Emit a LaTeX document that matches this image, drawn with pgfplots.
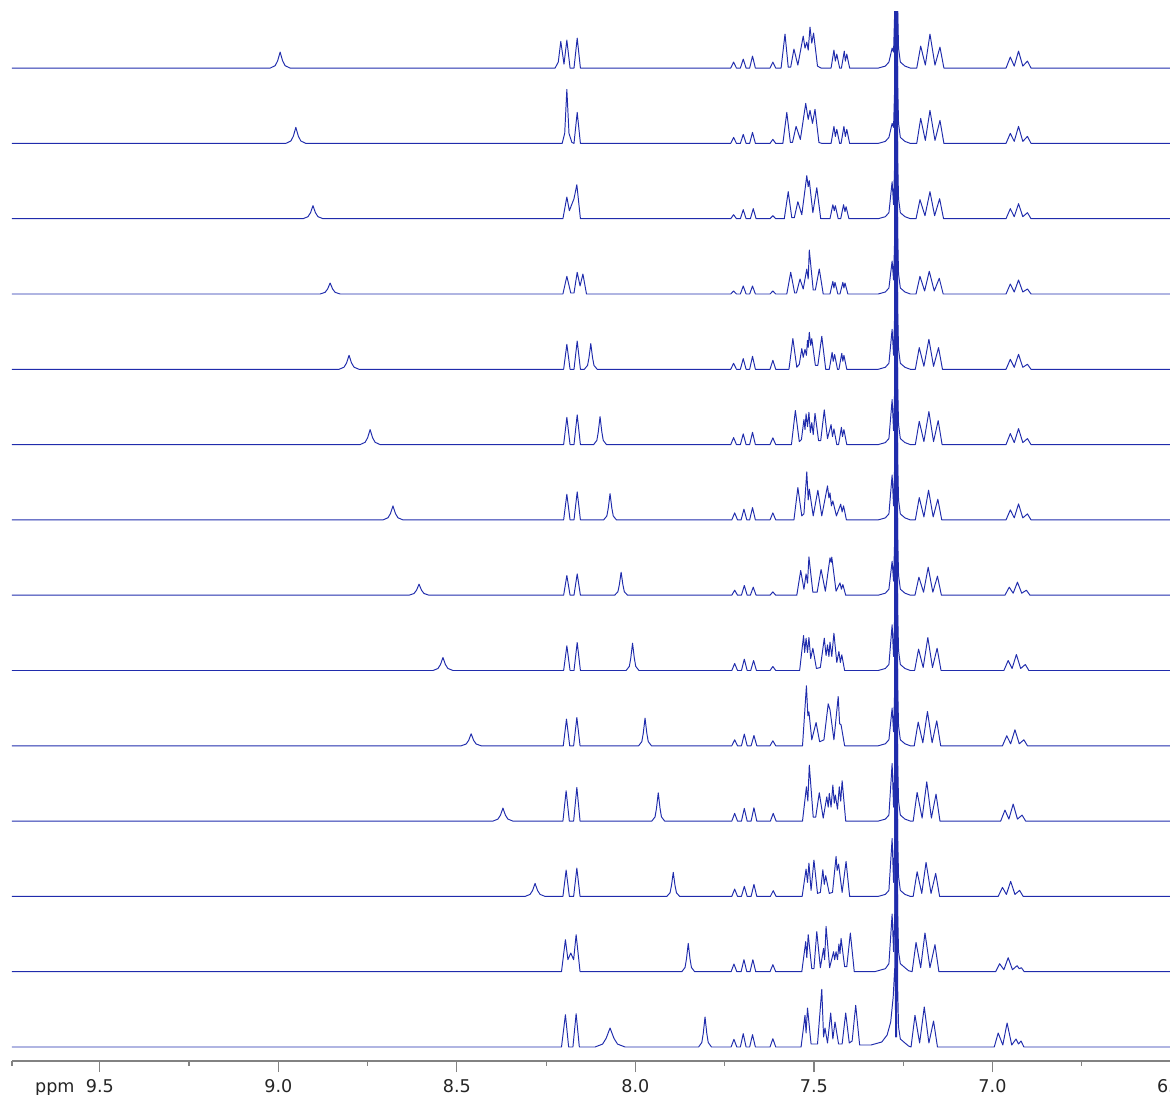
\documentclass[border=0pt]{standalone}
\usepackage{fontspec}
\setmainfont{DejaVu Sans}
\usepackage{pgfplots}
\pgfplotsset{compat=1.18}
\definecolor{spec}{RGB}{32,44,172}
\definecolor{axgray}{RGB}{130,130,130}
\begin{document}
\begin{tikzpicture}
\begin{axis}[
  at={(0,0)}, anchor=south west,
  scale only axis, width=23.18cm, height=20.98cm,
  x dir=reverse, xmin=6.5, xmax=9.746,
  ymin=-14, ymax=1035,
  axis x line*=bottom, axis y line=none,
  x axis line style={axgray, line width=0.7pt},
  xtick={9.5,9.0,8.5,8.0,7.5,7.0,6.5},
  xticklabels={\strut 9.5,\strut 9.0,\strut 8.5,\strut 8.0,\strut 7.5,\strut 7.0,\strut 6.5},
  minor xtick={9.746,9.25,8.75,8.25,7.75,7.25,6.75},
  extra x ticks={9.626}, extra x tick labels={\strut ppm},
  extra x tick style={major tick length=0pt, xticklabel style={yshift=-0.22cm}},
  xtick pos=lower, ytick=\empty,
  tick align=outside, major tick length=0.22cm, minor tick length=0.09cm,
  every tick/.style={axgray, line width=0.7pt},
  xticklabel style={font=\fontsize{10}{12}\selectfont, text=black!85},
  no marks,
  every axis plot/.append style={spec, line width=0.55pt, line join=round},
]
% row 1
\addplot[spec, y filter/.expression={y+978.9}] coordinates {
(9.760,0)(9.023,0)(9.009,2.4)(9.002,7.2)(8.995,16)(8.988,7.2)(8.981,2.4)(8.967,0)
(8.225,0)(8.216,6)(8.209,26.7)(8.200,4)(8.192,28)(8.183,0)(8.172,0)(8.163,30)(8.154,0)
(7.733,0)(7.725,6)(7.717,0)(7.706,0)(7.698,9)(7.690,0)(7.680,0)(7.672,12)(7.664,0)(7.623,0)(7.615,6)(7.607,0)
(7.592,0)(7.581,34)(7.572,1)(7.565,1)(7.556,19)(7.545,3)(7.530,32)(7.525,20)(7.520,26)(7.516,18)(7.511,41)(7.506,25)(7.501,35)(7.490,2)(7.480,0)
(7.452,0)(7.444,18)(7.440,7)(7.436,14)(7.428,0)(7.423,0)(7.415,17)(7.412,7)(7.408,14)(7.400,0)
(7.320,0)(7.300,2)(7.290,6)(7.281,20)(7.277,16)(7.2735,60)(7.2730,400)(7.2715,10)(7.2700,400)(7.2685,10)(7.2670,400)(7.2655,60)(7.263,20)(7.258,6)(7.245,2)(7.230,0)
(7.212,0)(7.201,22)(7.188,3)(7.175,34)(7.161,3)(7.147,21)(7.136,0)
(6.962,0)(6.950,11)(6.939,2)(6.927,17)(6.915,2)(6.902,7)(6.892,0)(6.490,0)};
% row 2
\addplot[spec, y filter/.expression={y+903.6}] coordinates {
(9.760,0)(8.979,0)(8.965,2.4)(8.958,7.2)(8.951,16)(8.944,7.2)(8.937,2.4)(8.923,0)
(8.205,0)(8.198,10)(8.192,54)(8.186,10)(8.178,1)(8.172,0)(8.163,31)(8.154,0)
(7.733,0)(7.725,6)(7.717,0)(7.706,0)(7.698,9)(7.690,0)(7.680,0)(7.672,11)(7.664,0)(7.623,0)(7.615,4)(7.607,0)
(7.587,0)(7.576,31)(7.566,1)(7.560,1)(7.550,17)(7.538,4)(7.523,40)(7.516,24)(7.511,33)(7.504,20)(7.497,34)(7.486,1)(7.478,0)
(7.452,0)(7.444,17)(7.440,7)(7.436,14)(7.428,0)(7.424,0)(7.416,17)(7.412,7)(7.408,14)(7.400,0)
(7.320,0)(7.300,2)(7.290,6)(7.281,20)(7.277,16)(7.2735,60)(7.2730,400)(7.2715,10)(7.2700,400)(7.2685,10)(7.2670,400)(7.2655,60)(7.263,20)(7.258,6)(7.245,2)(7.230,0)
(7.212,0)(7.201,25)(7.188,3)(7.175,33)(7.161,3)(7.147,23)(7.136,0)
(6.962,0)(6.950,10)(6.939,2)(6.927,17)(6.915,2)(6.902,7)(6.892,0)(6.490,0)};
% row 3
\addplot[spec, y filter/.expression={y+828.3}] coordinates {
(9.760,0)(8.931,0)(8.917,2)(8.910,5.9)(8.903,13)(8.896,5.9)(8.889,2)(8.875,0)
(8.203,0)(8.192,21.7)(8.185,8)(8.172,20)(8.164,34)(8.154,0)
(7.733,0)(7.725,4)(7.717,0)(7.706,0)(7.698,9)(7.690,0)(7.678,0)(7.670,10)(7.662,0)(7.623,0)(7.615,3)(7.607,0)
(7.583,0)(7.572,27)(7.562,1)(7.555,1)(7.545,17)(7.534,4)(7.520,43)(7.516,32)(7.513,38)(7.503,6)(7.492,31)(7.481,0)
(7.455,0)(7.447,14)(7.443,8)(7.440,13)(7.432,0)(7.425,0)(7.417,14)(7.413,7)(7.410,12)(7.402,0)
(7.320,0)(7.300,2)(7.290,6)(7.281,37)(7.277,14)(7.2735,60)(7.2730,400)(7.2715,10)(7.2700,400)(7.2685,10)(7.2670,400)(7.2655,60)(7.263,20)(7.258,6)(7.245,2)(7.230,0)
(7.214,0)(7.203,19)(7.189,3)(7.175,27)(7.162,3)(7.148,20)(7.137,0)
(6.962,0)(6.950,10)(6.939,2)(6.927,15)(6.915,2)(6.902,6)(6.892,0)(6.490,0)};
% row 4
\addplot[spec, y filter/.expression={y+753.0}] coordinates {
(9.760,0)(8.883,0)(8.869,1.7)(8.862,5)(8.855,11)(8.848,5)(8.841,1.7)(8.827,0)
(8.203,0)(8.192,17.7)(8.181,1)(8.172,1)(8.163,21.7)(8.155,8)(8.147,20)(8.137,0)
(7.733,0)(7.725,3)(7.717,0)(7.706,0)(7.698,8)(7.690,0)(7.680,0)(7.672,8)(7.664,0)(7.623,0)(7.615,3)(7.607,0)
(7.576,0)(7.565,21.7)(7.554,1)(7.549,1)(7.539,15)(7.530,5)(7.520,25)(7.516,15)(7.513,44)(7.502,4)(7.496,4)(7.485,25)(7.474,0)
(7.455,0)(7.447,12.7)(7.444,6)(7.441,11.7)(7.433,0)(7.427,0)(7.419,11.7)(7.416,6)(7.413,11)(7.405,0)
(7.320,0)(7.300,2)(7.290,6)(7.281,33)(7.277,14)(7.2735,60)(7.2730,400)(7.2715,10)(7.2700,400)(7.2685,10)(7.2670,400)(7.2655,60)(7.263,20)(7.258,6)(7.245,2)(7.230,0)
(7.214,0)(7.203,17.7)(7.190,3)(7.177,22.7)(7.163,3)(7.149,15.7)(7.138,0)
(6.962,0)(6.950,10)(6.939,2)(6.927,14)(6.915,2)(6.902,5)(6.892,0)(6.490,0)};
% row 5
\addplot[spec, y filter/.expression={y+677.7}] coordinates {
(9.760,0)(8.830,0)(8.816,2.1)(8.809,6.3)(8.802,14)(8.795,6.3)(8.788,2.1)(8.774,0)
(8.201,0)(8.192,25)(8.183,0)(8.172,0)(8.163,28.3)(8.154,0)
(8.143,0)(8.134,3.9)(8.130,11.6)(8.125,25.7)(8.120,11.6)(8.116,3.9)(8.107,0)
(7.733,0)(7.725,6)(7.717,0)(7.706,0)(7.698,10.7)(7.690,0)(7.680,0)(7.672,13)(7.664,0)(7.623,0)(7.615,9)(7.607,0)
(7.570,0)(7.559,30.7)(7.548,2)(7.541,5)(7.534,20.7)(7.530,12)(7.525,20)(7.521,14)(7.518,29)(7.516,22)(7.513,37)(7.509,24)(7.506,30.7)(7.496,4)(7.489,4)(7.478,33)(7.467,0)
(7.457,0)(7.449,17)(7.446,8)(7.442,14.7)(7.434,0)(7.430,0)(7.422,16)(7.419,8)(7.416,14)(7.408,0)
(7.320,0)(7.300,2)(7.290,6)(7.281,40)(7.277,14)(7.2735,60)(7.2730,400)(7.2715,10)(7.2700,400)(7.2685,10)(7.2670,400)(7.2655,60)(7.263,20)(7.258,6)(7.245,2)(7.230,0)
(7.216,0)(7.205,21.7)(7.192,3)(7.178,30)(7.165,3)(7.151,21.7)(7.140,0)
(6.962,0)(6.950,10)(6.939,2)(6.927,15)(6.915,2)(6.902,5)(6.892,0)(6.490,0)};
% row 6
\addplot[spec, y filter/.expression={y+602.4}] coordinates {
(9.760,0)(8.771,0)(8.757,2.3)(8.750,6.8)(8.743,15)(8.736,6.8)(8.729,2.3)(8.715,0)
(8.201,0)(8.192,27.3)(8.183,0)(8.172,0)(8.163,29.7)(8.154,0)
(8.117,0)(8.108,4.2)(8.104,12.6)(8.099,28)(8.094,12.6)(8.090,4.2)(8.081,0)
(7.733,0)(7.725,7)(7.717,0)(7.706,0)(7.698,10.7)(7.690,0)(7.680,0)(7.672,12.3)(7.664,0)(7.623,0)(7.615,6.7)(7.607,0)
(7.563,0)(7.552,34)(7.541,3)(7.535,5)(7.528,25)(7.525,15)(7.522,30.7)(7.518,18)(7.514,32.3)(7.510,12)(7.506,22)(7.502,10)(7.497,31.3)(7.487,4)(7.481,4)(7.471,34.7)(7.462,6)(7.452,20)(7.448,8)(7.444,15.7)(7.436,0)(7.431,0)(7.423,17.3)(7.420,8)(7.416,15)(7.408,0)
(7.320,0)(7.300,2)(7.290,6)(7.281,45)(7.277,14)(7.2735,60)(7.2730,400)(7.2715,10)(7.2700,400)(7.2685,10)(7.2670,400)(7.2655,60)(7.263,20)(7.258,6)(7.245,2)(7.230,0)
(7.216,0)(7.205,23.3)(7.192,3)(7.178,33)(7.165,3)(7.152,24)(7.141,0)
(6.962,0)(6.950,11)(6.939,2)(6.927,16)(6.915,2)(6.902,6)(6.892,0)(6.490,0)};
% row 7
\addplot[spec, y filter/.expression={y+527.1}] coordinates {
(9.760,0)(8.707,0)(8.693,2.1)(8.686,6.3)(8.679,14)(8.672,6.3)(8.665,2.1)(8.651,0)
(8.201,0)(8.192,25.7)(8.183,0)(8.172,0)(8.163,28)(8.154,0)
(8.089,0)(8.080,3.9)(8.076,11.8)(8.071,26.3)(8.066,11.8)(8.062,3.9)(8.053,0)
(7.730,0)(7.722,7)(7.714,0)(7.704,0)(7.696,10.7)(7.688,0)(7.680,0)(7.672,12.3)(7.664,0)(7.623,0)(7.615,7)(7.607,0)
(7.556,0)(7.545,32.3)(7.534,4)(7.528,6)(7.520,48)(7.516,20)(7.513,30.7)(7.502,4)(7.489,29.7)(7.478,4)(7.462,34)(7.458,22)(7.455,27)(7.451,14)(7.447,19)(7.437,4)(7.425,15.7)(7.421,8)(7.417,14)(7.409,0)
(7.320,0)(7.300,2)(7.290,6)(7.281,45)(7.277,14)(7.2735,60)(7.2730,400)(7.2715,10)(7.2700,400)(7.2685,10)(7.2670,400)(7.2655,60)(7.263,20)(7.258,6)(7.245,2)(7.230,0)
(7.216,0)(7.205,22.3)(7.192,3)(7.179,29.7)(7.166,3)(7.153,20.7)(7.142,0)
(6.962,0)(6.950,10)(6.939,2)(6.927,16)(6.915,2)(6.902,6)(6.892,0)(6.490,0)};
% row 8
\addplot[spec, y filter/.expression={y+451.8}] coordinates {
(9.760,0)(8.634,0)(8.620,1.7)(8.613,5)(8.606,11)(8.599,5)(8.592,1.7)(8.578,0)
(8.201,0)(8.192,19.7)(8.183,0)(8.172,0)(8.163,21.3)(8.154,0)
(8.058,0)(8.049,3.5)(8.045,10.4)(8.040,23)(8.035,10.4)(8.031,3.5)(8.022,0)
(7.730,0)(7.722,5)(7.714,0)(7.703,0)(7.695,9.7)(7.687,0)(7.678,0)(7.670,8)(7.662,0)(7.623,0)(7.615,3.3)(7.607,0)
(7.548,0)(7.537,24.7)(7.528,6)(7.522,21.3)(7.518,12)(7.514,38.3)(7.503,3)(7.491,3)(7.480,25.7)(7.468,4)(7.455,37.3)(7.452,33)(7.450,38)(7.438,4)(7.427,12.3)(7.423,6)(7.419,10.7)(7.411,0)
(7.320,0)(7.300,2)(7.290,6)(7.281,34)(7.277,14)(7.2735,60)(7.2730,400)(7.2715,10)(7.2700,400)(7.2685,10)(7.2670,400)(7.2655,60)(7.263,20)(7.258,6)(7.245,2)(7.230,0)
(7.217,0)(7.206,18)(7.193,3)(7.180,28)(7.167,3)(7.154,19)(7.143,0)
(6.965,0)(6.953,8)(6.942,2)(6.930,13)(6.918,2)(6.905,5)(6.895,0)(6.490,0)};
% row 9
\addplot[spec, y filter/.expression={y+376.5}] coordinates {
(9.760,0)(8.567,0)(8.553,2)(8.546,5.9)(8.539,13)(8.532,5.9)(8.525,2)(8.511,0)
(8.201,0)(8.192,24.7)(8.183,0)(8.172,0)(8.163,28)(8.154,0)
(8.026,0)(8.017,4.1)(8.013,12.3)(8.008,27.3)(8.003,12.3)(7.999,4.1)(7.990,0)
(7.730,0)(7.722,7)(7.714,0)(7.703,0)(7.695,11.3)(7.687,0)(7.677,0)(7.669,10)(7.661,0)(7.623,0)(7.615,4)(7.607,0)
(7.540,0)(7.529,35)(7.526,18)(7.522,32.3)(7.518,18)(7.514,33)(7.509,12)(7.503,22.3)(7.493,2)(7.482,3)(7.471,32.3)(7.466,15)(7.462,25.7)(7.458,14)(7.455,28.3)(7.450,14)(7.444,37.3)(7.436,8)(7.430,19)(7.426,8)(7.422,15.7)(7.414,0)
(7.320,0)(7.300,2)(7.290,6)(7.281,45.7)(7.277,14)(7.2735,60)(7.2730,400)(7.2715,10)(7.2700,400)(7.2685,10)(7.2670,400)(7.2655,60)(7.263,20)(7.258,6)(7.245,2)(7.230,0)
(7.218,0)(7.207,21.3)(7.194,3)(7.181,33)(7.168,3)(7.155,22.3)(7.144,0)
(6.968,0)(6.956,10)(6.945,2)(6.933,16)(6.921,2)(6.908,6)(6.898,0)(6.490,0)};
% row 10
\addplot[spec, y filter/.expression={y+301.2}] coordinates {
(9.760,0)(8.488,0)(8.474,1.8)(8.467,5.4)(8.460,12)(8.453,5.4)(8.446,1.8)(8.432,0)
(8.202,0)(8.193,26.7)(8.184,0)(8.173,0)(8.164,28.3)(8.155,0)
(7.991,0)(7.982,4.2)(7.978,12.5)(7.973,27.7)(7.968,12.5)(7.964,4.2)(7.955,0)
(7.730,0)(7.722,6)(7.714,0)(7.703,0)(7.695,11.7)(7.687,0)(7.676,0)(7.668,10.3)(7.660,0)(7.623,0)(7.615,5)(7.607,0)
(7.532,0)(7.521,60)(7.517,30)(7.514,34)(7.506,6)(7.494,23.3)(7.484,4)(7.472,6)(7.460,42)(7.455,36)(7.444,6)(7.432,49.3)(7.428,22)(7.424,21)(7.414,0)
(7.320,0)(7.300,2)(7.290,6)(7.281,37.7)(7.277,14)(7.2735,60)(7.2730,400)(7.2715,10)(7.2700,400)(7.2685,10)(7.2670,400)(7.2655,60)(7.263,20)(7.258,6)(7.245,2)(7.230,0)
(7.219,0)(7.208,23.7)(7.195,3)(7.182,34.3)(7.169,3)(7.156,25)(7.145,0)
(6.972,0)(6.960,10)(6.949,2)(6.937,16)(6.925,2)(6.912,6)(6.902,0)(6.490,0)};
% row 11
\addplot[spec, y filter/.expression={y+225.9}] coordinates {
(9.760,0)(8.399,0)(8.385,2)(8.378,5.9)(8.371,13)(8.364,5.9)(8.357,2)(8.343,0)
(8.203,0)(8.194,30.3)(8.185,0)(8.173,0)(8.164,33.7)(8.155,0)
(7.954,0)(7.945,4.2)(7.941,12.7)(7.936,28.3)(7.931,12.7)(7.927,4.2)(7.918,0)
(7.730,0)(7.722,7.7)(7.714,0)(7.703,0)(7.695,12.7)(7.687,0)(7.676,0)(7.668,13.3)(7.660,0)(7.622,0)(7.614,7.7)(7.606,0)
(7.532,0)(7.521,34.3)(7.517,20)(7.513,56)(7.502,4)(7.495,4)(7.485,28.3)(7.474,3)(7.464,24.3)(7.460,14)(7.457,27.7)(7.452,14)(7.447,36)(7.443,18)(7.440,26)(7.434,12)(7.429,34.3)(7.425,20)(7.421,40.3)(7.411,0)
(7.320,0)(7.300,2)(7.290,6)(7.281,57.7)(7.277,14)(7.2735,60)(7.2730,400)(7.2715,10)(7.2700,400)(7.2685,10)(7.2670,400)(7.2655,60)(7.263,20)(7.258,6)(7.245,2)(7.230,0)
(7.222,0)(7.211,28.7)(7.197,3)(7.184,39.3)(7.171,3)(7.158,27)(7.147,0)
(6.977,0)(6.965,11)(6.954,2)(6.942,17)(6.930,2)(6.917,6)(6.907,0)(6.490,0)};
% row 12
\addplot[spec, y filter/.expression={y+150.6}] coordinates {
(9.760,0)(8.309,0)(8.295,2)(8.288,5.9)(8.281,13)(8.274,5.9)(8.267,2)(8.253,0)
(8.203,0)(8.194,26.3)(8.185,0)(8.173,0)(8.164,28.3)(8.155,0)
(7.912,0)(7.903,3.6)(7.899,10.8)(7.894,24)(7.889,10.8)(7.885,3.6)(7.876,0)
(7.730,0)(7.722,7.3)(7.714,0)(7.703,0)(7.695,10)(7.687,0)(7.676,0)(7.668,12)(7.660,0)(7.622,0)(7.614,5.7)(7.606,0)
(7.533,0)(7.522,27.3)(7.518,14)(7.514,33.3)(7.508,6)(7.500,36.3)(7.490,3)(7.482,4)(7.475,26.7)(7.471,12)(7.467,20.7)(7.457,3)(7.448,4)(7.438,40)(7.435,26)(7.431,32.3)(7.421,4)(7.410,35)(7.400,0)
(7.320,0)(7.300,2)(7.290,6)(7.281,58)(7.277,14)(7.2735,60)(7.2730,400)(7.2715,10)(7.2700,400)(7.2685,10)(7.2670,400)(7.2655,60)(7.263,20)(7.258,6)(7.245,2)(7.230,0)
(7.222,0)(7.211,24.7)(7.198,3)(7.186,34)(7.172,3)(7.159,23)(7.148,0)
(6.984,0)(6.972,9)(6.961,2)(6.949,15)(6.937,2)(6.924,6)(6.914,0)(6.490,0)};
% row 13
\addplot[spec, y filter/.expression={y+75.3}] coordinates {
(9.760,0)(8.207,0)(8.196,32)(8.189,12)(8.181,18.7)(8.173,12)(8.166,37)(8.155,0)
(7.870,0)(7.861,4.2)(7.857,12.7)(7.852,28.3)(7.847,12.7)(7.843,4.2)(7.834,0)
(7.732,0)(7.724,7.7)(7.716,0)(7.704,0)(7.696,12)(7.688,0)(7.679,0)(7.671,12)(7.663,0)(7.623,0)(7.615,7)(7.607,0)
(7.534,0)(7.523,30)(7.520,14)(7.516,37)(7.506,3)(7.500,3)(7.492,40)(7.482,4)(7.473,23.3)(7.470,12)(7.466,45.3)(7.456,4)(7.445,20)(7.442,12)(7.438,20)(7.434,12)(7.430,27.7)(7.427,18)(7.424,33.3)(7.414,5)(7.408,5)(7.398,38.7)(7.387,0)
(7.330,0)(7.300,3)(7.290,8)(7.281,57.7)(7.277,20)(7.2735,60)(7.2730,400)(7.2715,10)(7.2700,400)(7.2685,10)(7.2670,400)(7.2655,60)(7.263,20)(7.258,8)(7.245,4)(7.235,1)
(7.225,0)(7.214,29.3)(7.201,4)(7.189,38.7)(7.175,4)(7.161,27)(7.150,0)
(6.991,0)(6.980,8)(6.968,2)(6.956,14)(6.944,2)(6.931,6)(6.925,3)(6.919,4)(6.911,0)(6.490,0)};
% row 14
\addplot[spec] coordinates {
(9.760,0)(8.207,0)(8.196,32.3)(8.187,0)(8.175,0)(8.166,33.3)(8.157,0)
(8.113,0)(8.092,2.9)(8.082,8.6)(8.071,19)(8.060,8.6)(8.050,2.9)(8.029,0)
(7.823,0)(7.814,4.5)(7.810,13.5)(7.805,30)(7.800,13.5)(7.796,4.5)(7.787,0)
(7.732,0)(7.724,7.7)(7.716,0)(7.706,0)(7.698,13.3)(7.690,0)(7.680,0)(7.672,12.3)(7.664,0)(7.623,0)(7.615,8.3)(7.607,0)
(7.536,0)(7.525,31.7)(7.522,14)(7.518,39)(7.508,3)(7.490,3)(7.478,57.7)(7.473,10)(7.469,19)(7.462,4)(7.453,34)(7.447,8)(7.441,25)(7.431,3)(7.421,3)(7.411,34)(7.401,4)(7.393,6)(7.383,41.7)(7.372,2)
(7.340,2)(7.310,5)(7.295,12)(7.285,25)(7.278,50)(7.2735,80)(7.2730,400)(7.2715,10)(7.2700,400)(7.2685,10)(7.2670,400)(7.2655,60)(7.263,20)(7.258,8)(7.245,4)(7.235,1)
(7.228,0)(7.217,31.7)(7.204,4)(7.191,40)(7.178,4)(7.165,26)(7.154,0)
(6.995,0)(6.984,14)(6.971,2)(6.959,24)(6.946,2)(6.934,8)(6.927,3)(6.920,6)(6.912,0)(6.490,0)};
\end{axis}
\pgfresetboundingbox
\path (-0.24,-0.68) rectangle (23.16,21.22);
\end{tikzpicture}
\end{document}
